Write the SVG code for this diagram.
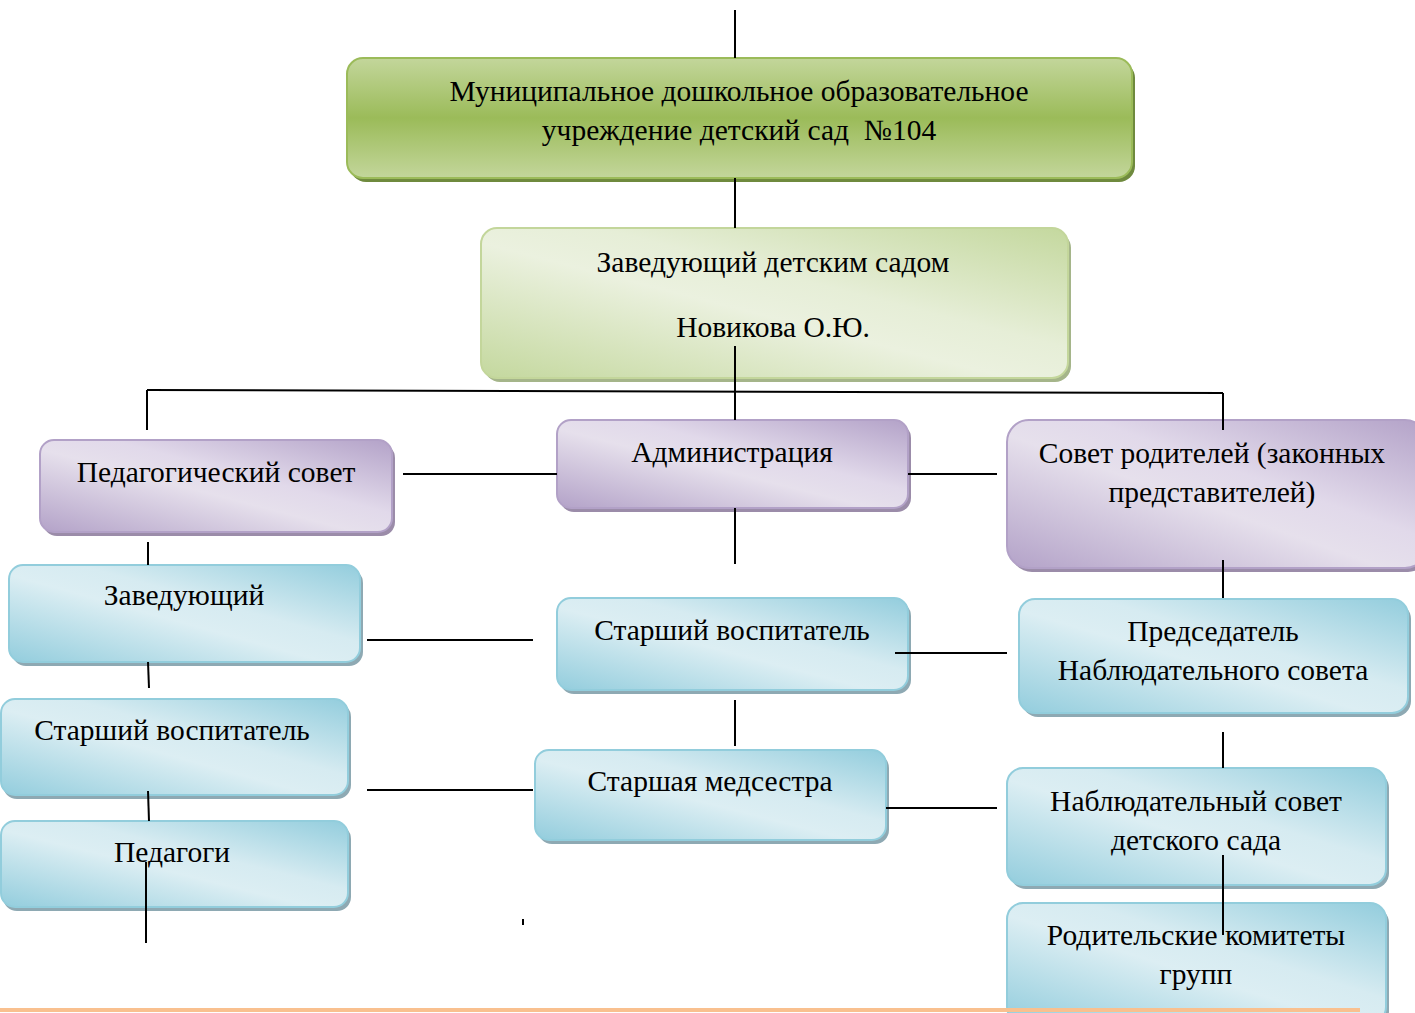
<svg xmlns="http://www.w3.org/2000/svg" width="1415" height="1013" viewBox="0 0 1415 1013">
<defs>
<linearGradient id="gBlue" x1="0" y1="1" x2="1" y2="0">
<stop offset="0" stop-color="#93cddd"/><stop offset="0.45" stop-color="#dceef3"/><stop offset="0.6" stop-color="#d6ebf1"/><stop offset="1" stop-color="#93cddd"/>
</linearGradient>
<linearGradient id="gPurp" x1="0" y1="1" x2="1" y2="0">
<stop offset="0" stop-color="#b3a2c8"/><stop offset="0.45" stop-color="#e6e0ec"/><stop offset="0.6" stop-color="#e1d9ea"/><stop offset="1" stop-color="#b3a2c8"/>
</linearGradient>
<linearGradient id="gLight" x1="0" y1="1" x2="1" y2="0">
<stop offset="0" stop-color="#c4d89e"/><stop offset="0.45" stop-color="#ebf1df"/><stop offset="0.6" stop-color="#e6eed7"/><stop offset="1" stop-color="#c4d89e"/>
</linearGradient>
<linearGradient id="gTop" x1="0" y1="0" x2="0" y2="1">
<stop offset="0" stop-color="#c3d69b"/><stop offset="0.5" stop-color="#9bbb59"/><stop offset="1" stop-color="#c3d69b"/>
</linearGradient>
</defs>
<style>
text{font-family:"Liberation Serif","Times New Roman",serif;font-size:29.5px;fill:#000;text-anchor:middle}
.ln{stroke:#000;stroke-width:2;fill:none}
.blue{fill:url(#gBlue);stroke:#92cddc;stroke-width:2}
.bsh{fill:#8ea9b3}
.purp{fill:url(#gPurp);stroke:#b2a1c7;stroke-width:2}
.psh{fill:#9b8ca9}
.light{fill:url(#gLight);stroke:#c3d69b;stroke-width:2}
.lsh{fill:#a5b58a}
.top{fill:url(#gTop);stroke:#9bbb59;stroke-width:2}
.tsh{fill:#6f8a3e}
</style>

<g id="n-mdou">
<rect class="tsh" x="350" y="62" width="785" height="120" rx="16"/>
<rect class="top" x="347" y="58" width="785" height="120" rx="16"/>
<text x="739" y="101">Муниципальное дошкольное образовательное</text>
<text x="739" y="140" xml:space="preserve">учреждение детский сад  №104</text>
</g>

<g id="n-head">
<rect class="lsh" x="484" y="232" width="587" height="150" rx="16"/>
<rect class="light" x="481" y="228" width="587" height="150" rx="16"/>
<text x="773" y="272">Заведующий детским садом</text>
<text x="773" y="337">Новикова О.Ю.</text>
</g>

<g id="n-pedsovet">
<rect class="psh" x="43" y="444" width="352" height="92" rx="14"/>
<rect class="purp" x="40" y="440" width="352" height="92" rx="14"/>
<text x="216" y="482">Педагогический совет</text>
</g>

<g id="n-admin">
<rect class="psh" x="560" y="424" width="351" height="88" rx="14"/>
<rect class="purp" x="557" y="420" width="351" height="88" rx="14"/>
<text x="732" y="462">Администрация</text>
</g>

<g id="n-parents">
<rect class="psh" x="1010" y="424" width="420" height="148" rx="22"/>
<rect class="purp" x="1007" y="420" width="420" height="148" rx="22"/>
<text x="1212" y="463">Совет родителей (законных</text>
<text x="1212" y="502">представителей)</text>
</g>

<g id="n-zav">
<rect class="bsh" x="12" y="569" width="351" height="97" rx="14"/>
<rect class="blue" x="9" y="565" width="351" height="97" rx="14"/>
<text x="184" y="605">Заведующий</text>
</g>

<g id="n-stvos-left">
<rect class="bsh" x="3" y="703" width="348" height="96" rx="14"/>
<rect class="blue" x="1" y="699" width="347" height="96" rx="14"/>
<text x="172" y="740">Старший воспитатель</text>
</g>

<g id="n-pedagogi">
<rect class="bsh" x="3" y="825" width="348" height="86" rx="14"/>
<rect class="blue" x="1" y="821" width="347" height="86" rx="14"/>
<text x="172" y="862">Педагоги</text>
</g>

<g id="n-stvos-center">
<rect class="bsh" x="560" y="602" width="351" height="92" rx="14"/>
<rect class="blue" x="557" y="598" width="351" height="92" rx="14"/>
<text x="732" y="640">Старший воспитатель</text>
</g>

<g id="n-medsestra">
<rect class="bsh" x="538" y="754" width="351" height="90" rx="14"/>
<rect class="blue" x="535" y="750" width="351" height="90" rx="14"/>
<text x="710" y="791">Старшая медсестра</text>
</g>

<g id="n-chair">
<rect class="bsh" x="1022" y="603" width="389" height="114" rx="16"/>
<rect class="blue" x="1019" y="599" width="389" height="114" rx="16"/>
<text x="1213" y="641">Председатель</text>
<text x="1213" y="680">Наблюдательного совета</text>
</g>

<g id="n-supervisory">
<rect class="bsh" x="1010" y="772" width="379" height="117" rx="16"/>
<rect class="blue" x="1007" y="768" width="379" height="117" rx="16"/>
<text x="1196" y="811">Наблюдательный совет</text>
<text x="1196" y="850">детского сада</text>
</g>

<g id="n-committees">
<rect class="bsh" x="1010" y="907" width="379" height="120" rx="16"/>
<rect class="blue" x="1007" y="903" width="379" height="120" rx="16"/>
<text x="1196" y="945">Родительские комитеты</text>
<text x="1196" y="984">групп</text>
</g>

<g id="connectors">
<line class="ln" x1="735" y1="10" x2="735" y2="58"/>
<line class="ln" x1="735" y1="178" x2="735" y2="228"/>
<line class="ln" x1="735" y1="346" x2="735" y2="420"/>
<line class="ln" x1="147" y1="390" x2="1223" y2="393"/>
<line class="ln" x1="147" y1="390" x2="147" y2="430"/>
<line class="ln" x1="1223" y1="393" x2="1223" y2="430"/>
<line class="ln" x1="403" y1="474" x2="557" y2="474"/>
<line class="ln" x1="908" y1="474" x2="997" y2="474"/>
<line class="ln" x1="148" y1="542" x2="148" y2="565"/>
<line class="ln" x1="148" y1="662" x2="149" y2="688"/>
<line class="ln" x1="148" y1="791" x2="149" y2="821"/>
<line class="ln" x1="146" y1="862" x2="146" y2="943"/>
<line class="ln" x1="523" y1="919" x2="523" y2="925"/>
<line class="ln" x1="735" y1="508" x2="735" y2="564"/>
<line class="ln" x1="735" y1="700" x2="735" y2="746"/>
<line class="ln" x1="367" y1="640" x2="533" y2="640"/>
<line class="ln" x1="367" y1="790" x2="533" y2="790"/>
<line class="ln" x1="895" y1="653" x2="1007" y2="653"/>
<line class="ln" x1="886" y1="808" x2="997" y2="808"/>
<line class="ln" x1="1223" y1="560" x2="1223" y2="598"/>
<line class="ln" x1="1223" y1="732" x2="1223" y2="768"/>
<line class="ln" x1="1223" y1="855" x2="1223" y2="935"/>
</g>

<g id="orange-line"><line x1="0" y1="1010" x2="1360" y2="1010" stroke="#f9c08f" stroke-width="4"/></g>
</svg>
